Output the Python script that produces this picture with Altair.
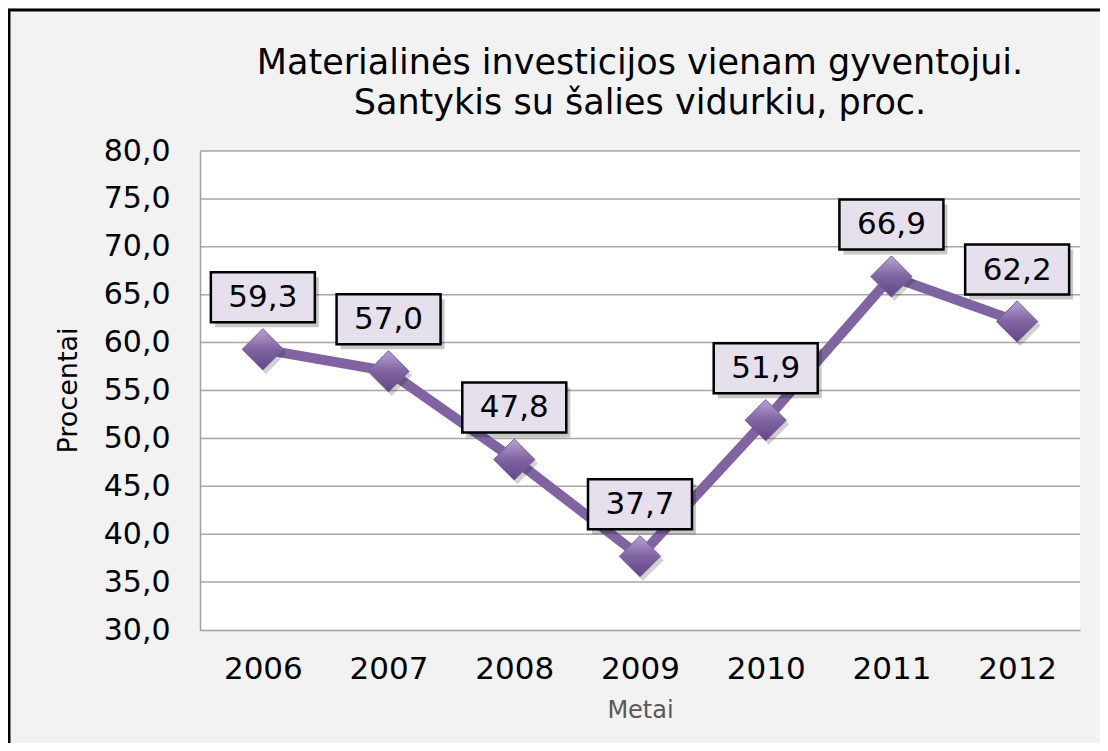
import altair as alt
import pandas as pd

years = [2006, 2007, 2008, 2009, 2010, 2011, 2012]
values = [59.3, 57.0, 47.8, 37.7, 51.9, 66.9, 62.2]
labels = ["59,3", "57,0", "47,8", "37,7", "51,9", "66,9", "62,2"]
y_ticks = [30, 35, 40, 45, 50, 55, 60, 65, 70, 75, 80]
grid_values = [35, 40, 45, 50, 55, 60, 65, 70, 75, 80]
title_lines = ["Materialinės investicijos vienam gyventojui.",
               "Santykis su šalies vidurkiu, proc."]

df = pd.DataFrame({"Metai": years, "Procentai": values, "label": labels})
grid_df = pd.DataFrame({"Procentai": grid_values})

FONT = "DejaVu Sans"
W, H = 880, 479

xscale = alt.Scale(domain=[2005.5, 2012.5], nice=False, zero=False)
yscale = alt.Scale(domain=[30, 80], nice=False, zero=False)

x_enc = alt.X(
    "Metai:Q",
    scale=xscale,
    axis=alt.Axis(
        values=years, format="d", grid=False, ticks=False,
        domain=True, domainColor="#a0a0a0", domainWidth=1.5,
        labelFontSize=31, labelFont=FONT, labelColor="#000000", labelPadding=24,
        title="Metai", titleFontSize=24, titleFont=FONT, titleColor="#595959",
        titleFontWeight="normal", titlePadding=14, zindex=1,
    ),
)
y_axis = alt.Axis(
    values=y_ticks, grid=False, ticks=False,
    labelExpr="replace(format(datum.value, '.1f'), '.', ',')",
    domain=True, domainColor="#a0a0a0", domainWidth=1.5,
    labelFontSize=30, labelFont=FONT, labelColor="#000000", labelPadding=30,
    title="Procentai", titleFontSize=27, titleFont=FONT, titleColor="#000000",
    titleFontWeight="normal", titleAngle=270, titleX=-132, titleY=239,
    titleAlign="center", titleBaseline="middle", zindex=1,
)
y_enc = alt.Y("Procentai:Q", scale=yscale, axis=y_axis)

one = alt.Data(values=[{}])

panel = alt.Chart(one).mark_rect(
    fill="#f2f2f2", stroke="#000000", strokeWidth=3
).encode(
    x=alt.value(-191), x2=alt.value(960), y=alt.value(-141), y2=alt.value(700)
)

plotbg = alt.Chart(one).mark_rect(fill="#ffffff").encode(
    x=alt.value(0), x2=alt.value(W), y=alt.value(0), y2=alt.value(H)
)

title1 = alt.Chart(one).mark_text(
    text=title_lines[0], font=FONT, fontSize=35, color="#000000",
    align="center", baseline="alphabetic",
).encode(x=alt.value(W / 2), y=alt.value(-77))

title2 = alt.Chart(one).mark_text(
    text=title_lines[1], font=FONT, fontSize=35, color="#000000",
    align="center", baseline="alphabetic",
).encode(x=alt.value(W / 2), y=alt.value(-37))

grid = alt.Chart(grid_df).mark_rule(color="#a6a6a6", strokeWidth=1.5).encode(
    y=y_enc
)

base = alt.Chart(df)

line = base.mark_line(color="#8064a2", strokeWidth=10).encode(x=x_enc, y=y_enc)

diamond_shadow = base.mark_point(
    shape="diamond", size=1700, filled=True, fill="#000000", opacity=0.18,
    xOffset=3, yOffset=4,
).encode(x=x_enc, y=y_enc)

diamonds = base.mark_point(
    shape="diamond", size=1700, filled=True, opacity=1,
    fill=alt.Gradient(
        gradient="linear",
        stops=[alt.GradientStop(color="#b5a3d2", offset=0),
               alt.GradientStop(color="#8064a2", offset=0.5),
               alt.GradientStop(color="#5f4785", offset=1)],
        x1=0, x2=0, y1=0, y2=1,
    ),
    stroke="#7a5f9c", strokeWidth=1,
).encode(x=x_enc, y=y_enc)

box_shadow = base.mark_rect(
    width=104, height=50, fill="#000000", opacity=0.22, xOffset=4, yOffset=-47
).encode(x=x_enc, y=y_enc)

boxes = base.mark_rect(
    width=104, height=50, fill="#e6e0ec", stroke="#000000", strokeWidth=2.5,
    yOffset=-52,
).encode(x=x_enc, y=y_enc)

texts = base.mark_text(
    font=FONT, fontSize=31, color="#000000", baseline="middle", align="center",
    dy=-51,
).encode(x=x_enc, y=y_enc, text="label:N")

chart = alt.layer(
    panel, plotbg, title1, title2, grid, line, diamond_shadow, diamonds,
    box_shadow, boxes, texts
).properties(
    width=W,
    height=H,
    autosize=alt.AutoSizeParams(type="none"),
    padding={"left": 192, "top": 143, "right": 20, "bottom": 113},
    background="#e8f0dc",
).configure_view(stroke=None, fill="#ffffff")

chart.save("out.html", embed_options={"renderer": "svg", "actions": False})
